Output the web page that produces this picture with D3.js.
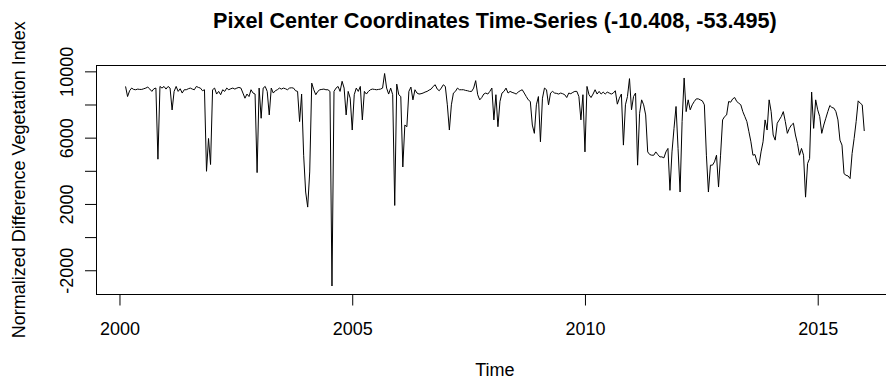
<!DOCTYPE html>
<html>
<head>
<meta charset="utf-8">
<script src="https://cdn.jsdelivr.net/npm/d3@7/dist/d3.min.js"></script>
<style>
  html, body { margin: 0; padding: 0; background: #ffffff; }
  svg { display: block; }
  text { font-family: "Liberation Sans", Arial, Helvetica, sans-serif; fill: #000; }
</style>
</head>
<body>
<svg id="chart" width="886" height="382"></svg>
<script>
// ---- Data: MODIS 16-day NDVI series (ts, start = 2000 period 4, frequency 23) ----
const startYear = 2000;
const startPeriod = 4;
const frequency = 23;

const ndvi = [
  // 2000 (periods 4..23)
  9090, 8480, 8830, 8990, 8910, 8890, 8930, 8910, 8910, 8950, 8990, 9050, 8930, 8790, 8950, 8990, 4700, 9090, 8990, 9090,
  // 2001
  8930, 9090, 8990, 7670, 8790, 9090, 8790, 8950, 8690, 8890, 8890, 8950, 8990, 8930, 8890, 9090, 9030, 8990, 8830, 8890, 3970, 5950, 4380,
  // 2002
  8890, 8990, 8630, 8790, 8590, 8890, 8790, 8990, 8890, 8950, 8990, 8930, 8990, 9030, 8990, 8690, 8380, 8630, 8480, 8890, 8690, 8630, 3890,
  // 2003
  8990, 7170, 8990, 9090, 8790, 7370, 8990, 8690, 8830, 8890, 8990, 8930, 8990, 8950, 8890, 8990, 9010, 8990, 8830, 8790, 6970, 8630, 4940,
  // 2004
  2720, 1810, 3930, 9290, 8890, 8590, 8790, 8890, 8910, 8930, 8890, 8890, 8790, -2950, 8790, 8990, 9090, 8790, 9400, 8990, 7370, 8790, 8380,
  // 2005
  6460, 8590, 8990, 8790, 9090, 7070, 8790, 8630, 8790, 8890, 8930, 8910, 8890, 8910, 8930, 8990, 9870, 8990, 8630, 8990, 8590, 1910, 9230,
  // 2006
  8590, 8480, 4230, 6760, 6660, 8790, 9050, 8280, 8890, 8690, 8630, 8650, 8690, 8750, 8790, 8870, 8930, 9090, 9190, 8930, 8830, 8990, 9190,
  // 2007
  9090, 7980, 6460, 7980, 8690, 8790, 8990, 8890, 8890, 8890, 8850, 8830, 8790, 8790, 8990, 9440, 8590, 8280, 8420, 8630, 8690, 8630, 8790,
  // 2008
  8990, 7070, 8590, 6660, 8180, 8690, 8790, 8990, 8690, 8790, 8730, 8690, 8630, 8750, 8830, 8890, 8690, 8480, 8280, 8180, 6760, 6260, 7980,
  // 2009
  8480, 5750, 8380, 8990, 8890, 7980, 8690, 8790, 8690, 8670, 8630, 8690, 8650, 8590, 8420, 8690, 8650, 8730, 8790, 8790, 8480, 7070, 8590,
  // 2010
  5140, 9090, 8590, 8420, 8630, 8890, 8630, 8790, 8630, 8750, 8630, 8750, 8690, 8630, 8690, 8830, 8020, 8380, 8630, 5550, 7980, 8480, 9560,
  // 2011
  7680, 8480, 8690, 4340, 7470, 8280, 7980, 7370, 5140, 4980, 4940, 4940, 5140, 4980, 4840, 4840, 4780, 5140, 5350, 2820, 5140, 6560, 7880,
  // 2012
  5350, 2720, 6970, 9600, 7570, 8280, 7680, 7980, 8180, 8340, 8340, 8280, 8220, 7980, 4940, 2720, 4340, 4340, 4540, 4940, 3020, 4940, 7070,
  // 2013
  7270, 7370, 8180, 8140, 8340, 8420, 8180, 8080, 7980, 7570, 7270, 6970, 6360, 5750, 4940, 4980, 4540, 4340, 5140, 5750, 7070, 6460, 8280,
  // 2014
  7570, 6160, 5850, 6870, 7070, 7270, 7570, 6970, 6260, 6560, 6760, 6870, 6160, 5650, 4940, 5350, 4940, 2410, 4440, 4740, 8750, 6560, 8280,
  // 2015
  7680, 7270, 6260, 6760, 7170, 7570, 7940, 7820, 7780, 7570, 7070, 5850, 5550, 3830, 3730, 3690, 3530, 5040, 5950, 6970, 8220, 8080, 7980,
  // 2016 (period 1)
  6400
];

const xTickValues = [2000, 2005, 2010, 2015];
const yTickValues = [-2000, 0, 2000, 4000, 6000, 8000, 10000];
const yLabelValues = [-2000, 2000, 6000, 10000];

const titleText = "Pixel Center Coordinates Time-Series (-10.408, -53.495)";
const xTitle = "Time";
const yTitle = "Normalized Difference Vegetation Index";

// ---- Build time index like an R ts object ----
const series = ndvi.map((v, i) => ({
  t: startYear + (startPeriod - 1 + i) / frequency,
  v: v
}));

// ---- Layout (R base graphics look) ----
const W = 886, H = 382;
const plot = { left: 96, top: 65, bottom: 294.5, right: 893.8 };

const svg = d3.select("#chart");
svg.append("rect").attr("width", W).attr("height", H).attr("fill", "#fff");

// R pads axis ranges by 4% on each side
const tExt = d3.extent(series, d => d.t);
const vExt = d3.extent(series, d => d.v);
const tPad = (tExt[1] - tExt[0]) * 0.04;
const vPad = (vExt[1] - vExt[0]) * 0.04;

const x = d3.scaleLinear()
  .domain([tExt[0] - tPad, tExt[1] + tPad])
  .range([plot.left, plot.right]);
const y = d3.scaleLinear()
  .domain([vExt[0] - vPad, vExt[1] + vPad])
  .range([plot.bottom, plot.top]);

// clip for plot area
svg.append("clipPath").attr("id", "clip")
  .append("rect")
  .attr("x", plot.left).attr("y", plot.top)
  .attr("width", plot.right - plot.left).attr("height", plot.bottom - plot.top);

// line
const line = d3.line().x(d => x(d.t)).y(d => y(d.v));
svg.append("path")
  .datum(series)
  .attr("clip-path", "url(#clip)")
  .attr("fill", "none")
  .attr("stroke", "#000")
  .attr("stroke-width", 1)
  .attr("stroke-linejoin", "round")
  .attr("d", line);

// box
svg.append("rect")
  .attr("x", plot.left + 0.5)
  .attr("y", plot.top + 0.5)
  .attr("width", plot.right - plot.left)
  .attr("height", plot.bottom - plot.top - 0.5)
  .attr("fill", "none")
  .attr("stroke", "#000")
  .attr("stroke-width", 1);

// x axis
const xAxis = d3.axisBottom(x)
  .tickValues(xTickValues)
  .tickFormat(d3.format("d"))
  .tickSizeInner(11)
  .tickSizeOuter(0);
const gx = svg.append("g")
  .attr("transform", `translate(0,${plot.bottom})`)
  .call(xAxis);
gx.select(".domain").remove();
gx.selectAll(".tick line").attr("stroke", "#000");
gx.selectAll(".tick text")
  .attr("y", 40.5)
  .attr("dy", null)
  .style("font-size", "18px")
  .style("font-family", "'Liberation Sans', Arial, sans-serif")
  .attr("fill", "#000");

// y axis
const yAxis = d3.axisLeft(y)
  .tickValues(yTickValues)
  .tickFormat(d => yLabelValues.includes(d) ? String(d) : "")
  .tickSizeInner(11)
  .tickSizeOuter(0);
const gy = svg.append("g")
  .attr("transform", `translate(${plot.left},0)`)
  .call(yAxis);
gy.select(".domain").remove();
gy.selectAll(".tick line").attr("stroke", "#000");
gy.selectAll(".tick text")
  .attr("x", 0)
  .attr("y", -23)
  .attr("dy", null)
  .attr("transform", "rotate(-90)")
  .attr("text-anchor", "middle")
  .style("font-size", "18px")
  .style("font-family", "'Liberation Sans', Arial, sans-serif")
  .attr("fill", "#000");

// titles
const cx = (plot.left + plot.right) / 2;
svg.append("text")
  .attr("x", cx).attr("y", 28)
  .attr("text-anchor", "middle")
  .style("font-size", "21.6px")
  .style("font-weight", "bold")
  .text(titleText);

svg.append("text")
  .attr("x", cx).attr("y", 376)
  .attr("text-anchor", "middle")
  .style("font-size", "18px")
  .text(xTitle);

svg.append("text")
  .attr("transform", `translate(25,${(plot.top + plot.bottom) / 2}) rotate(-90)`)
  .attr("text-anchor", "middle")
  .style("font-size", "18px")
  .text(yTitle);
</script>
</body>
</html>
